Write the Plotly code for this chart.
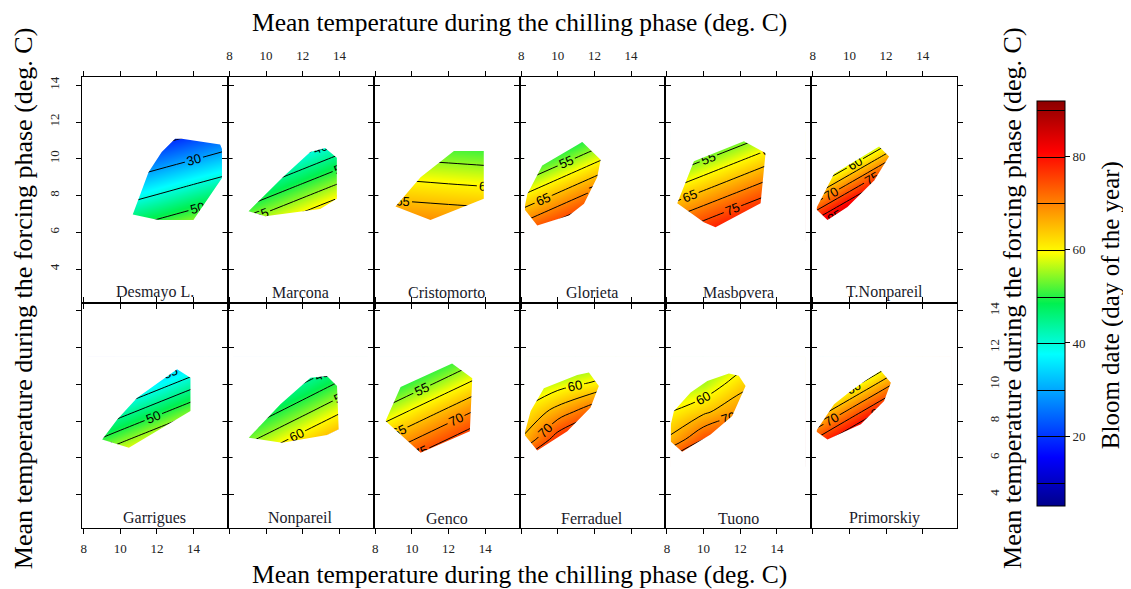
import plotly.graph_objects as go

# ---------------- data ----------------
cultivars = ["Desmayo L.", "Marcona", "Cristomorto", "Glorieta", "Masbovera", "T.Nonpareil",
             "Garrigues", "Nonpareil", "Genco", "Ferraduel", "Tuono", "Primorskiy"]

# grid of chilling (x) and forcing (y) temperatures where bloom date is read
grid_x = [8.2, 10, 12, 14, 15.55]
grid_y = [5.5, 7, 8.5, 10, 11.5]

# bloom date (day of year); one row per grid_y value
bloom_desmayo = [[51.3, 54.9, 59.0, 63.1, 66.2],
                 [40.1, 43.8, 47.8, 51.9, 55.1],
                 [29.0, 32.6, 36.7, 40.8, 43.9],
                 [17.8, 21.5, 25.6, 29.6, 32.8],
                 [6.7, 10.4, 14.4, 18.5, 21.6]]
bloom_marcona = [[60.5, 65.1, 70.2, 75.3, 79.3],
                 [50.9, 55.5, 60.6, 65.7, 69.7],
                 [41.3, 45.9, 51.0, 56.1, 60.1],
                 [31.7, 36.3, 41.4, 46.5, 50.5],
                 [22.1, 26.7, 31.8, 36.9, 40.9]]
bloom_cristomorto = [[75.1, 74.5, 73.9, 73.3, 72.9],
                     [68.4, 67.9, 67.3, 66.7, 66.2],
                     [61.8, 61.3, 60.6, 60.0, 59.6],
                     [55.2, 54.6, 54.0, 53.4, 52.9],
                     [48.5, 48.0, 47.4, 46.8, 46.3]]
bloom_glorieta = [[77.6, 83.0, 89.0, 95.0, 99.7],
                  [67.4, 72.8, 78.8, 84.8, 89.5],
                  [57.2, 62.6, 68.6, 74.6, 79.3],
                  [47.0, 52.4, 58.4, 64.4, 69.1],
                  [36.8, 42.2, 48.2, 54.2, 58.9]]
bloom_masbovera = [[77.6, 81.9, 86.7, 91.5, 95.3],
                   [68.5, 72.8, 77.6, 82.4, 86.1],
                   [59.3, 63.6, 68.4, 73.2, 77.0],
                   [50.2, 54.5, 59.3, 64.1, 67.8],
                   [41.0, 45.3, 50.1, 54.9, 58.7]]
bloom_tnonpareil = [[93.6, 104.9, 117.5, 130.1, 139.9],
                    [77.1, 88.4, 101.0, 113.6, 123.4],
                    [60.6, 71.9, 84.5, 97.1, 106.9],
                    [44.1, 55.4, 68.0, 80.6, 90.4],
                    [27.6, 38.9, 51.5, 64.1, 73.9]]
bloom_garrigues = [[59.2, 64.4, 70.2, 76.0, 80.5],
                   [48.3, 53.6, 59.4, 65.2, 69.6],
                   [37.5, 42.7, 48.5, 54.3, 58.8],
                   [26.6, 31.8, 37.6, 43.4, 47.9],
                   [15.7, 20.9, 26.7, 32.5, 37.0]]
bloom_nonpareil = [[60.0, 65.1, 70.8, 76.5, 80.9],
                   [51.5, 56.6, 62.3, 68.0, 72.4],
                   [42.9, 48.0, 53.7, 59.4, 63.9],
                   [34.4, 39.5, 45.2, 50.9, 55.3],
                   [25.8, 30.9, 36.6, 42.3, 46.8]]
bloom_genco = [[73.4, 78.5, 84.1, 89.7, 94.0],
               [64.6, 69.6, 75.2, 80.8, 85.1],
               [55.7, 60.8, 66.4, 72.0, 76.3],
               [46.9, 51.9, 57.5, 63.1, 67.4],
               [38.0, 43.1, 48.7, 54.3, 58.6]]
bloom_ferraduel = [[80, 90, 95, 98, 100],
                   [66, 78, 85, 90, 93],
                   [61, 67, 74, 80, 84],
                   [55, 58, 61, 66, 70],
                   [48, 48, 52, 57, 61]]
bloom_tuono = [[80, 86, 90, 94, 97],
               [66, 75, 80, 84, 87],
               [60, 64, 69, 73, 76],
               [54, 56, 63, 67, 70],
               [48, 50, 56, 60, 63]]
bloom_primorskiy = [[90.0, 99.9, 110.9, 121.9, 130.4],
                    [75.7, 85.7, 96.7, 107.7, 116.2],
                    [61.5, 71.4, 82.4, 93.4, 101.9],
                    [47.2, 57.1, 68.1, 79.1, 87.7],
                    [33.0, 42.9, 53.9, 64.9, 73.4]]

# observed climate envelope (hull) of each cultivar
hull_x_desmayo = [10.68, 11.54, 12.26, 12.99, 13.36, 15.45, 15.81, 15.81, 13.99, 12.08]
hull_y_desmayo = [6.97, 9.27, 10.37, 11.09, 11.09, 10.78, 10.46, 9.0, 6.67, 6.67]
hull_x_marcona = [9.04, 10.95, 12.41, 13.22, 13.86, 13.86, 12.95, 9.95]
hull_y_marcona = [7.15, 9.04, 10.37, 10.58, 10.06, 7.82, 7.27, 6.87]
hull_x_cristomorto = [9.10, 10.47, 12.29, 13.92, 13.92, 11.01]
hull_y_cristomorto = [7.40, 9.0, 10.42, 10.42, 7.82, 6.67]
hull_x_glorieta = [8.06, 8.34, 9.15, 11.34, 12.34, 12.15, 11.43, 10.61, 8.88]
hull_y_glorieta = [7.27, 8.09, 9.64, 10.91, 9.95, 9.0, 7.55, 6.91, 6.37]
hull_x_masbovera = [8.56, 9.47, 12.20, 13.38, 13.11, 10.65, 10.01]
hull_y_masbovera = [7.58, 9.87, 10.95, 10.31, 7.58, 6.27, 6.55]
hull_x_tnonpareil = [8.07, 9.16, 11.62, 12.16, 11.35, 9.89, 8.80]
hull_y_tnonpareil = [7.27, 9.18, 10.67, 10.13, 8.82, 7.37, 6.67]
hull_x_garrigues = [9.01, 9.83, 10.92, 13.10, 13.83, 13.83, 10.47]
hull_y_garrigues = [7.0, 8.09, 9.27, 10.82, 10.36, 8.55, 6.55]
hull_x_nonpareil = [9.05, 10.78, 12.42, 13.32, 13.87, 13.96, 13.32, 10.87]
hull_y_nonpareil = [7.09, 8.91, 10.36, 10.45, 9.91, 7.55, 7.24, 6.82]
hull_x_genco = [8.56, 9.38, 12.19, 13.29, 13.16, 10.47]
hull_y_genco = [8.0, 9.85, 11.13, 10.33, 7.45, 6.27]
hull_x_ferraduel = [8.06, 8.52, 9.24, 11.06, 11.70, 12.24, 11.79, 10.52, 8.88]
hull_y_ferraduel = [7.27, 8.54, 9.78, 10.51, 10.64, 9.91, 8.73, 7.45, 6.40]
hull_x_tuono = [8.10, 8.01, 8.38, 9.29, 10.20, 11.38, 11.92, 12.29, 11.56, 10.38, 8.83]
hull_y_tuono = [6.91, 7.64, 8.54, 9.55, 10.18, 10.58, 10.46, 9.91, 8.27, 7.27, 6.33]
hull_x_primorskiy = [8.04, 9.16, 10.07, 10.98, 11.71, 12.26, 11.89, 10.62, 8.80]
hull_y_primorskiy = [7.45, 8.91, 9.64, 10.27, 10.73, 10.09, 9.09, 7.82, 7.0]

contour_step = [10, 5, 5, 5, 5, 5, 5, 5, 5, 5, 5, 5]

x_ticks = [8, 10, 12, 14]
y_ticks = [4, 6, 8, 10, 12, 14]
colorbar_ticks = [20, 40, 60, 80]
bloom_min, bloom_max = 5, 92

# ---------------- figure ----------------
blooms = [bloom_desmayo, bloom_marcona, bloom_cristomorto, bloom_glorieta, bloom_masbovera,
          bloom_tnonpareil, bloom_garrigues, bloom_nonpareil, bloom_genco, bloom_ferraduel,
          bloom_tuono, bloom_primorskiy]
hulls = [(hull_x_desmayo, hull_y_desmayo), (hull_x_marcona, hull_y_marcona),
         (hull_x_cristomorto, hull_y_cristomorto), (hull_x_glorieta, hull_y_glorieta),
         (hull_x_masbovera, hull_y_masbovera), (hull_x_tnonpareil, hull_y_tnonpareil),
         (hull_x_garrigues, hull_y_garrigues), (hull_x_nonpareil, hull_y_nonpareil),
         (hull_x_genco, hull_y_genco), (hull_x_ferraduel, hull_y_ferraduel),
         (hull_x_tuono, hull_y_tuono), (hull_x_primorskiy, hull_y_primorskiy)]

jet = [[0.0, "#00008B"], [0.12, "#0000FF"], [0.375, "#00FFFF"], [0.5, "#00F050"],
       [0.625, "#FFFF00"], [0.875, "#FF0000"], [1.0, "#8B0000"]]

SERIF = "Liberation Serif, Times New Roman, serif"
SANS = "Liberation Sans, Arial, sans-serif"
x_range = [7.91, 15.87]
y_range = [2.18, 14.45]

fig = go.Figure()
shapes = []
annotations = []
layout_axes = {}

for i, name in enumerate(cultivars):
    r, c = divmod(i, 6)
    xid = "x" if i == 0 else f"x{i+1}"
    yid = "y" if i == 0 else f"y{i+1}"
    xkey = "xaxis" if i == 0 else f"xaxis{i+1}"
    ykey = "yaxis" if i == 0 else f"yaxis{i+1}"

    fig.add_trace(go.Contour(
        x=grid_x, y=grid_y, z=blooms[i], xaxis=xid, yaxis=yid,
        colorscale=jet, zmin=bloom_min, zmax=bloom_max,
        autocontour=False,
        contours=dict(start=10, end=95, size=contour_step[i], coloring="heatmap",
                      showlabels=True,
                      labelfont=dict(family=SANS, size=13, color="black")),
        line=dict(color="black", width=1),
        showscale=(i == 0),
        colorbar=dict(x=1.0914, xanchor="left", xpad=0, y=0.498, yanchor="middle",
                      len=0.899, lenmode="fraction", ypad=0, thickness=28,
                      outlinewidth=1, outlinecolor="black",
                      tickvals=colorbar_ticks, ticks="outside", ticklen=5,
                      tickcolor="black",
                      tickfont=dict(family=SERIF, size=13, color="#222")),
        hoverinfo="skip",
    ))

    # mask outside the observed envelope
    x0, x1 = grid_x[0] - 0.03, grid_x[-1] + 0.03
    y0, y1 = grid_y[0] - 0.03, grid_y[-1] + 0.03
    hx, hy = hulls[i]
    pts = [(min(max(a, x0), x1), min(max(b, y0), y1)) for a, b in zip(hx, hy)]
    path = (f"M {x0},{y0} L {x1},{y0} L {x1},{y1} L {x0},{y1} Z "
            + "M " + " L ".join(f"{a},{b}" for a, b in pts) + " Z")
    shapes.append(dict(type="path", path=path, xref=xid, yref=yid,
                       fillcolor="white", line=dict(width=0), layer="above",
                       fillrule="evenodd"))

    xdom = [c / 6, (c + 1) / 6]
    ydom = [0.5, 1.0] if r == 0 else [0.0, 0.5]
    show_x = (r == 0 and c % 2 == 1) or (r == 1 and c % 2 == 0)
    common = dict(ticks="outside", ticklen=5, tickcolor="black", tickwidth=1,
                  showline=True, linecolor="black", linewidth=1, mirror="ticks",
                  showgrid=False, zeroline=False,
                  tickfont=dict(family=SERIF, size=13, color="#222"))
    layout_axes[xkey] = dict(domain=xdom, range=x_range, anchor=yid, tickvals=x_ticks,
                             side="top" if r == 0 else "bottom",
                             showticklabels=show_x,
                             ticklabelstandoff=6 if r == 0 else 3, **common)
    show_y = (i == 0) or (i == 11)
    layout_axes[ykey] = dict(domain=ydom, range=y_range, anchor=xid, tickvals=y_ticks,
                             side="right" if i == 11 else "left",
                             showticklabels=show_y, tickangle=-90,
                             ticklabelstandoff=20 if i == 11 else 12, **common)

    annotations.append(dict(text=name, x=(c + 0.5) / 6, y=0.523 if r == 0 else 0.022,
                            xref="paper", yref="paper", showarrow=False,
                            xanchor="center", yanchor="middle",
                            font=dict(family=SERIF, size=16, color="#1a1a2a")))

title_font = dict(family=SERIF, size=25.5, color="black")
side_font = dict(family=SERIF, size=26, color="black")
cb_font = dict(family=SERIF, size=25, color="black")
xtitle = "Mean temperature during the chilling phase (deg. C)"
ytitle = "Mean temperature during the forcing phase (deg. C)"
annotations += [
    dict(text=xtitle, x=0.5, y=1.12, xref="paper", yref="paper", showarrow=False,
         xanchor="center", yanchor="middle", font=title_font),
    dict(text=xtitle, x=0.5, y=-0.104, xref="paper", yref="paper", showarrow=False,
         xanchor="center", yanchor="middle", font=title_font),
    dict(text=ytitle, x=-0.066, y=0.508, xref="paper", yref="paper", showarrow=False,
         xanchor="center", yanchor="middle", textangle=-90, font=side_font),
    dict(text=ytitle, x=1.064, y=0.508, xref="paper", yref="paper", showarrow=False,
         xanchor="center", yanchor="middle", textangle=-90, font=side_font),
    dict(text="Bloom date (day of the year)", x=1.176, y=0.494, xref="paper", yref="paper",
         showarrow=False, xanchor="center", yanchor="middle", textangle=-90,
         font=cb_font),
]

# the page body adds an 8 px offset, so the figure is 8 px smaller than the window
fig.update_layout(
    width=1123, height=581,
    margin=dict(l=74, r=174, t=69, b=61, autoexpand=False),
    paper_bgcolor="white", plot_bgcolor="white",
    showlegend=False,
    shapes=shapes, annotations=annotations,
    **layout_axes,
)

fig.write_html("out.html")
